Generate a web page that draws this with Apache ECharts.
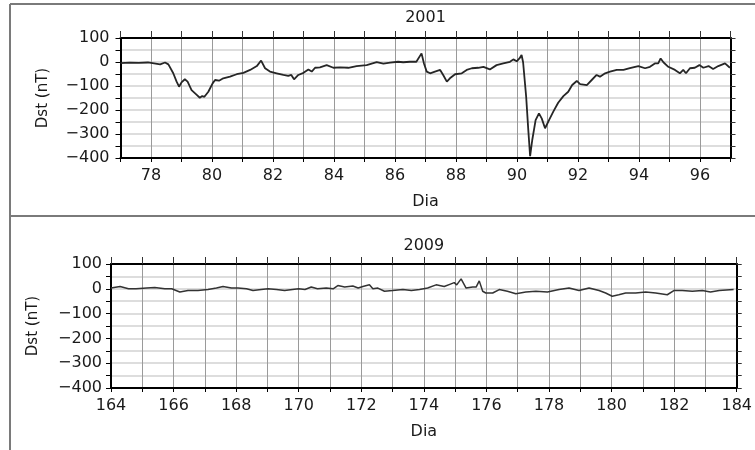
<!DOCTYPE html>
<html>
<head>
<meta charset="utf-8">
<script src="https://cdn.jsdelivr.net/npm/echarts@6/dist/echarts.min.js"></script>
<style>
  html, body { margin: 0; padding: 0; background: #fff; }
  #chart { width: 755px; height: 450px; }
</style>
</head>
<body>
<div id="chart"></div>
<script>
// Dst 2001 (dias 77-97)
var days2001 = [77.0, 77.3, 77.6, 77.9, 78.1, 78.3, 78.46, 78.57, 78.73, 78.84, 78.92, 79.0, 79.11, 79.2,
    79.33, 79.5, 79.6, 79.68, 79.75, 79.88, 80.02, 80.1, 80.23, 80.37, 80.59, 80.81, 81.03, 81.25,
    81.47, 81.61, 81.74, 81.9, 82.12, 82.34, 82.5, 82.6, 82.69, 82.83, 83.0, 83.16, 83.27, 83.38,
    83.54, 83.76, 83.98, 84.2, 84.47, 84.74, 85.07, 85.4, 85.62, 85.84, 86.1, 86.27, 86.49, 86.7,
    86.87, 86.95, 87.04, 87.15, 87.31, 87.48, 87.58, 87.7, 87.8, 87.97, 88.19, 88.35, 88.52, 88.73,
    88.9, 89.11, 89.33, 89.55, 89.77, 89.88, 89.99, 90.08, 90.15, 90.2, 90.3, 90.37, 90.43, 90.5,
    90.61, 90.72, 90.81, 90.92, 90.97, 91.05, 91.19, 91.35, 91.52, 91.68, 91.81, 91.96, 92.07, 92.29,
    92.45, 92.61, 92.72, 92.89, 93.05, 93.27, 93.49, 93.7, 93.98, 94.2, 94.36, 94.52, 94.63, 94.71,
    94.8, 94.96, 95.18, 95.34, 95.45, 95.54, 95.67, 95.83, 95.98, 96.11, 96.28, 96.43, 96.6, 96.82, 96.98];
var dst2001 = [-5, -3, -4, -2, -6, -10, -2, -10, -47, -82, -103, -85, -72, -82,
    -117, -137, -149, -142, -145, -124, -89, -75, -78, -68, -61, -51, -45, -33,
    -17, 6, -26, -40, -47, -54, -58, -54, -72, -54, -45, -31, -40, -24,
    -22, -13, -24, -22, -24, -17, -13, -1, -7, -3, 1, -1, 1, 1,
    36, -6, -40, -47, -40, -33, -54, -82, -68, -51, -47, -33, -26, -24,
    -20, -31, -13, -6, 1, 11, 3, 15, 29, -1, -144, -283, -392, -325,
    -242, -214, -235, -276, -282, -242, -207, -170, -142, -124, -96, -79, -92, -96,
    -75, -54, -61, -47, -40, -33, -33, -26, -17, -26, -20, -6, -6, 15,
    -1, -20, -33, -47, -33, -47, -26, -24, -13, -24, -17, -29, -17, -6, -24];

// Dst 2009 (dias 164-184)
var days2009 = [164.0, 164.29, 164.56, 164.8, 165.14, 165.4, 165.72, 165.94, 166.2, 166.46, 166.78,
    167.1, 167.37, 167.58, 167.85, 168.06, 168.33, 168.54, 168.8, 169.02, 169.29, 169.55, 169.8,
    170.0, 170.2, 170.4, 170.6, 170.88, 171.1, 171.25, 171.47, 171.73, 171.9, 172.05, 172.26, 172.37,
    172.53, 172.74, 173.0, 173.33, 173.6, 173.86, 174.12, 174.39, 174.65, 174.87, 174.97, 175.05,
    175.19, 175.35, 175.56, 175.67, 175.77, 175.88, 175.98, 176.2, 176.41, 176.67, 176.94, 177.26,
    177.58, 177.95, 178.32, 178.64, 178.96, 179.28, 179.6, 179.81, 180.02, 180.23, 180.45, 180.77,
    181.09, 181.41, 181.78, 181.99, 182.26, 182.58, 182.9, 183.16, 183.44, 183.9];
var dst2009 = [3, 9, 0, 0, 3, 5, 0, 0, -13, -7, -7,
    -3, 3, 9, 3, 3, 0, -7, -3, 0, -3, -7, -3,
    0, -3, 7, 0, 3, 0, 13, 7, 11, 3, 9, 16, 0,
    3, -10, -7, -3, -7, -3, 3, 16, 9, 20, 25, 16,
    40, 3, 7, 7, 32, -10, -17, -17, -3, -10, -20, -13,
    -10, -13, -3, 3, -7, 3, -7, -17, -30, -24, -17, -17,
    -13, -17, -24, -7, -7, -10, -7, -13, -7, -3];

var yTicks = [-400, -300, -200, -100, 0, 100];

var font = 'DejaVu Sans';
var txt = '#1a1a1a';

function pairs(xs, ys) {
    var out = [];
    for (var i = 0; i < xs.length; i++) {
        out.push([xs[i], ys[i]]);
    }
    return out;
}

function yLabel(v) {
    if (yTicks.indexOf(v) < 0) return '';
    return String(v).replace('-', '\u2212');
}

function xLabel(v) {
    return (v % 2 === 0) ? String(v) : '';
}

// eixo x de baixo (com grade vertical) + eixo de cima (só moldura e ticks)
function xAxes(gi, lo, hi, title, titleGap, nameGap, lblMargin) {
    return [{
        type: 'value', gridIndex: gi, position: 'bottom', min: lo, max: hi, interval: 1,
        name: 'Dia', nameLocation: 'middle', nameGap: nameGap,
        nameTextStyle: { fontFamily: font, fontSize: 16, color: txt },
        axisLine: { show: true, onZero: false, lineStyle: { color: '#000', width: 2 } },
        axisTick: { show: true, inside: false, length: 4, lineStyle: { color: '#000', width: 1 } },
        axisLabel: { formatter: xLabel, fontFamily: font, fontSize: 16, color: txt, margin: lblMargin, showMinLabel: true, showMaxLabel: true },
        splitLine: { show: true, lineStyle: { color: '#9a9a9a', width: 1 } }
    }, {
        type: 'value', gridIndex: gi, position: 'top', min: lo, max: hi, interval: 1,
        name: title, nameLocation: 'middle', nameGap: titleGap,
        nameTextStyle: { fontFamily: font, fontSize: 16, color: txt },
        axisLine: { show: true, onZero: false, lineStyle: { color: '#000', width: 2 } },
        axisTick: { show: true, inside: false, length: 7, lineStyle: { color: '#333', width: 1 } },
        axisLabel: { show: false },
        splitLine: { show: false }
    }];
}

function yAxes(gi, nameGap, lblMargin) {
    return [{
        type: 'value', gridIndex: gi, position: 'left', min: -400, max: 100, interval: 50,
        name: 'Dst (nT)', nameLocation: 'middle', nameGap: nameGap, nameRotate: 90,
        nameMoveOverlap: false,
        nameTextStyle: { fontFamily: font, fontSize: 15, color: txt },
        axisLine: { show: true, onZero: false, lineStyle: { color: '#000', width: 2 } },
        axisTick: { show: true, inside: false, length: 5, lineStyle: { color: '#000', width: 1 } },
        axisLabel: { formatter: yLabel, fontFamily: font, fontSize: 16, color: txt, margin: lblMargin },
        splitLine: { show: true, lineStyle: { color: '#d2d2d2', width: 1.5 } }
    }, {
        type: 'value', gridIndex: gi, position: 'right', min: -400, max: 100, interval: 50,
        axisLine: { show: true, onZero: false, lineStyle: { color: '#000', width: 2 } },
        axisTick: { show: true, inside: false, length: 5, lineStyle: { color: '#333', width: 1 } },
        axisLabel: { show: false },
        splitLine: { show: false }
    }];
}

var myChart = echarts.init(document.getElementById('chart'), null, { renderer: 'canvas' });

var option = {
    backgroundColor: '#fff',
    animation: false,
    grid: [
        { left: 120.5, top: 38, width: 610, height: 120 },
        { left: 111, top: 264, width: 627, height: 124 }
    ],
    xAxis: xAxes(0, 77, 97, '2001', 12, 36, 10).concat(xAxes(1, 164, 184, '2009', 10, 36, 10)),
    yAxis: yAxes(0, 70, 11).concat(yAxes(1, 70, 9)),
    series: [
        {
            type: 'line', xAxisIndex: 0, yAxisIndex: 0, data: pairs(days2001, dst2001),
            showSymbol: false, symbol: 'none', lineStyle: { color: '#262626', width: 1.8 }, z: 5
        },
        {
            type: 'line', xAxisIndex: 2, yAxisIndex: 2, data: pairs(days2009, dst2009),
            showSymbol: false, symbol: 'none', lineStyle: { color: '#333', width: 1.5 }, z: 5
        }
    ],
    graphic: [
        // moldura da figura
        { type: 'line', shape: { x1: 10, y1: 4, x2: 755, y2: 4 }, style: { stroke: '#7a7a7a', lineWidth: 2 } },
        { type: 'line', shape: { x1: 10, y1: 4, x2: 10, y2: 450 }, style: { stroke: '#7a7a7a', lineWidth: 2 } },
        { type: 'line', shape: { x1: 10, y1: 216, x2: 755, y2: 216 }, style: { stroke: '#7a7a7a', lineWidth: 2 } }
    ]
};

myChart.setOption(option);
</script>
</body>
</html>
